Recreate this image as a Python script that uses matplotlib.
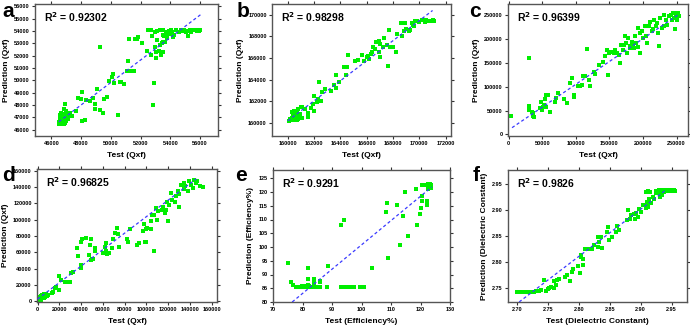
import matplotlib
matplotlib.use("Agg")
import matplotlib.pyplot as plt
from matplotlib.ticker import FixedLocator, FormatStrFormatter

plt.rcParams['font.family'] = ['Liberation Sans', 'DejaVu Sans']
plt.rcParams['font.weight'] = 'bold'

# ---------------- panel a ----------------
a_x = [46500,46550,46600,46650,46700,46750,46800,46850,46500,46600,46700,46800,46550,46650,46750,46850,46900,46600,46700,46800,46650,46750,46950,47050,47150,46900,47000,46550,46950,46700,
       46940,46820,47410,47250,47100,47650,47760,48050,48000,48070,48280,48350,48630,48820,49060,48940,48940,49290,49480,49530,49720,49290,49880,50050,50160,50190,50470,50590,50710,50890,
       51060,51290,51410,51530,51180,51250,51650,51810,51760,52120,52400,52680,52700,52780,52870,52990,53110,52940,53000,53060,53250,53290,53410,53480,53530,53650,53760,53840,53880,54000,
       54070,54160,54120,54240,52820,53340,53480,53600,54590,54710,54940,55060,55290,55410,55600,55690,55840,55930,56020,55150,55500,55800,55200,54400,54800,53300,53500,53700,52500,53100]
a_y = [46450,46500,46450,46550,46500,46450,46550,46500,46650,46750,46700,46850,46900,47000,47100,47000,46800,47200,47300,47250,47400,46600,46950,47200,46900,46550,46700,46600,47500,46850,
       48060,47660,47120,47350,47050,47520,48540,49070,48510,46720,46800,48400,48330,48600,49340,48060,47660,47580,47390,48510,48650,52740,49930,50250,50520,49800,47200,49880,49880,49720,
       50730,50730,50730,50730,51590,53350,53400,53540,53330,53000,52390,52070,54070,53590,49800,53940,53270,52740,51800,52340,52420,52870,53000,52280,53080,53140,53460,53780,53990,53730,
       54070,53540,53890,53670,48000,52070,53670,53600,53940,54070,54070,53940,54070,53940,54070,54070,54130,54020,54070,54000,54100,54000,53600,54100,54050,54100,54100,53900,54100,54000]
a_line_x = [46500, 56100]
a_line_y = [46650, 55400]
a_r2 = "0.92302"

# ---------------- panel b ----------------
b_x = [160100,160200,160300,160400,160500,160600,160700,160800,160200,160350,160500,160650,160800,160900,160500,160700,160800,161000,160400,160950,161100,160600,160300,
       161100,161300,161500,161500,161800,161900,162000,162000,162200,162300,162400,162500,162600,162800,163300,163500,163700,163700,163900,164300,164400,164500,164600,165100,
       165300,165600,165800,166000,166100,166200,166300,166400,166500,166600,166700,166900,166900,167000,167000,167200,167300,167500,167600,167700,167800,168000,168200,168300,
       168600,168700,168800,168900,169000,169300,169400,169500,169600,169700,170000,170200,170400,170600,170800,171000,171100,169800,170500,169200]
b_y = [160200,160300,160250,160400,160300,160350,160300,160400,160400,160500,160600,160700,160600,160800,161100,161000,161300,161500,160700,160450,160500,160900,161000,
       161500,161300,160900,160600,161400,161800,162500,161100,161900,162200,163800,162000,162900,163100,163000,163500,164400,163200,163800,165200,164400,165200,166300,165700,
       165800,166300,165700,166100,166200,165900,166400,166600,167000,166800,167500,167600,166600,167300,166100,167000,167900,167200,165300,168600,167000,167000,166600,168200,
       169200,168000,168500,169200,168700,168600,169200,169100,169000,169400,169300,169500,169300,169400,169400,169500,169400,169400,169500,168500]
b_line_x = [160000, 171000]
b_line_y = [160200, 170400]
b_r2 = "0.98298"

# ---------------- panel c ----------------
c_x = [3000,30000,30000,30000,36000,36000,35000,37000,46000,48000,49000,51000,53000,55000,55000,58000,61000,54000,
       69000,71000,74000,82000,87000,91000,95000,97000,97000,103000,106000,109000,111000,114000,116000,119000,121000,
       127000,128000,134000,141000,143000,147000,148000,150000,153000,157000,159000,162000,164000,166000,167000,171000,
       173000,175000,178000,180000,181000,184000,186000,188000,190000,192000,195000,196000,199000,200000,203000,205000,
       206000,209000,211000,214000,216000,219000,221000,224000,226000,229000,231000,234000,236000,239000,241000,243000,
       245000,246000,248000,249000,250000,251000,252000,253000,247000,232000,170000,176000,185000,193000,215000,222000]
c_y = [39000,60000,51000,160000,44000,39000,48000,37000,56000,69000,51000,58000,62000,58000,83000,83000,48000,74000,
       69000,77000,86000,74000,65000,107000,118000,83000,78000,102000,102000,104000,123000,123000,179000,114000,102000,
       132000,127000,146000,153000,165000,178000,125000,171000,174000,171000,178000,172000,167000,150000,188000,187000,
       206000,192000,202000,181000,185000,195000,181000,206000,192000,223000,213000,172000,217000,202000,227000,207000,
       192000,227000,237000,217000,241000,227000,234000,186000,244000,223000,250000,241000,230000,248000,251000,241000,
       255000,244000,255000,248000,251000,241000,255000,249000,221000,227000,178000,170000,189000,184000,222000,212000]
c_line_x = [5000, 253000]
c_line_y = [14000, 252000]
c_r2 = "0.96399"

# ---------------- panel d ----------------
d_x = [1000,2000,3000,4000,5000,6000,7000,8000,3000,5000,6000,2000,4000,7000,9000,10000,1500,500,6000,8000,3500,
       13000,14000,16000,17000,20000,20000,22000,25000,27000,30000,31000,33000,
       37000,36000,40000,41000,40000,40000,45000,49000,48000,47000,49000,50000,51000,53000,53000,60000,62000,63000,63000,64000,
       66000,68000,69000,71000,73000,74000,75000,82000,83000,85000,91000,93000,97000,98000,100000,101000,99000,100000,104000,
       104000,107000,105000,109000,110000,107000,111000,114000,115000,117000,118000,119000,120000,121000,123000,124000,126000,
       127000,129000,130000,130000,132000,135000,136000,139000,141000,143000,144000,146000,147000,149000,152000,138000,135000]
d_y = [2000,3000,2500,4000,5000,6000,7000,7000,6000,8000,4500,5000,7500,5500,6500,7000,1000,3500,9000,9000,1500,
       10000,11000,16000,17000,14000,31000,26000,24000,24000,24000,35000,36000,
       55000,65000,73000,76000,44000,41000,77000,76000,69000,57000,51000,52000,52000,65000,62000,59000,67000,71000,61000,58000,
       59000,65000,76000,84000,90000,82000,67000,76000,73000,88000,69000,71000,86000,94000,88000,90000,73000,73000,88000,
       98000,106000,106000,114000,100000,61000,110000,112000,116000,108000,112000,122000,98000,118000,133000,124000,122000,
       129000,135000,131000,116000,143000,145000,141000,147000,143000,139000,149000,145000,147000,141000,140000,135000,137000]
d_line_x = [0, 146000]
d_line_y = [2500, 150000]
d_r2 = "0.96825"

# ---------------- panel e ----------------
e_x = [75.0,76.2,76.8,
       77.8,78.3,78.8,79.3,79.8,80.3,80.8,81.3,81.8,82.3,82.8,83.3,83.8,84.3,84.8,85.3,86.0,88.2,93.2,94.4,95.2,96.1,97.3,99.6,100.3,100.9,
       79.0,79.8,80.6,81.7,82.2,81.7,81.7,83.8,84.0,85.8,86.0,88.8,93.1,94.1,103.6,108.3,108.7,109.1,112.2,113.1,113.9,114.8,115.7,
       118.7,118.4,119.8,120.1,120.4,120.5,120.6,121.5,122.1,122.1,122.7,123.0,123.2,123.7,123.6,122.4]
e_y = [94.2,87.2,86.3,
       85.3,85.3,85.3,85.3,85.3,85.3,85.3,85.3,85.3,85.3,85.3,85.3,85.3,85.3,85.3,85.3,85.3,85.3,85.3,85.3,85.3,85.3,85.3,85.3,85.3,85.3,
       85.6,85.7,85.8,86.2,86.0,88.2,92.2,86.8,88.5,87.2,87.8,93.0,107.9,110.0,92.2,112.7,115.9,95.9,115.4,100.6,111.4,120.0,104.0,
       107.9,121.0,112.1,114.2,118.6,116.6,122.5,122.5,116.6,115.4,121.0,122.2,122.8,122.7,121.6,122.8]
e_line_x = [76.5, 123.8]
e_line_y = [80.0, 121.8]
e_r2 = "0.9291"

# ---------------- panel f ----------------
f_x = [2.700,2.703,2.706,2.709,2.712,2.715,2.718,2.721,2.724,2.727,2.730,2.733,2.736,
       2.735,2.739,2.744,2.746,2.749,2.752,2.755,2.759,2.760,2.762,2.764,2.767,2.777,2.780,2.785,2.788,2.790,2.798,2.801,
       2.803,2.804,2.807,2.806,2.809,2.814,2.821,2.825,2.830,2.831,2.833,2.836,2.837,2.845,2.847,2.849,2.854,2.860,2.862,
       2.865,2.877,2.879,2.882,2.885,2.889,2.891,2.893,2.895,2.897,2.900,2.904,2.908,2.910,2.911,2.912,2.914,2.917,2.915,
       2.920,2.922,2.925,2.927,2.929,2.931,2.908,2.912,
       2.924,2.927,2.930,2.933,2.936,2.939,2.942,2.945,2.948,2.951,2.954,2.956,2.932,2.935,2.938]
f_y = [2.7435,2.7435,2.7438,2.7435,2.7438,2.7435,2.7438,2.744,2.7438,2.744,2.7443,2.7445,2.7448,
       2.745,2.747,2.767,2.746,2.748,2.751,2.752,2.764,2.750,2.756,2.766,2.769,2.772,2.776,2.764,2.782,2.788,2.793,2.780,
       2.811,2.814,2.795,2.806,2.825,2.825,2.825,2.833,2.830,2.849,2.839,2.849,2.827,2.859,2.868,2.843,2.849,2.859,2.869,
       2.862,2.881,2.900,2.884,2.890,2.892,2.884,2.894,2.887,2.903,2.897,2.910,2.905,2.916,2.913,2.906,2.922,2.913,2.935,
       2.926,2.922,2.932,2.936,2.935,2.926,2.935,2.936,
       2.937,2.937,2.938,2.937,2.938,2.937,2.938,2.937,2.938,2.937,2.938,2.937,2.933,2.930,2.934]
f_line_x = [2.703, 2.940]
f_line_y = [2.724, 2.938]
f_r2 = "0.9826"

W, H = 690, 325
fig = plt.figure(figsize=(W/100, H/100), dpi=100)

def make_ax(x0, y0, x1, y1):
    return fig.add_axes([x0/W, 1 - y1/H, (x1-x0)/W, (y1-y0)/H])

panels = [
    dict(box=(35, 4, 218, 136), x=a_x, y=a_y, lx=a_line_x, ly=a_line_y, r2=a_r2, letter='a', lpos=(2, 2),
         xlim=(44900, 57200), ylim=(45500, 56200), xt=list(range(46000, 56001, 2000)), yt=list(range(46000, 56001, 1000)),
         xl='Test (Qxf)', yl='Prediction (Qxf)', fmt='%d'),
    dict(box=(272, 4, 451, 136), x=b_x, y=b_y, lx=b_line_x, ly=b_line_y, r2=b_r2, letter='b', lpos=(237, 2),
         xlim=(158800, 172400), ylim=(158800, 171000), xt=list(range(160000, 172001, 2000)), yt=list(range(160000, 170001, 2000)),
         xl='Test (Qxf)', yl='Prediction (Qxf)', fmt='%d'),
    dict(box=(508, 4, 688, 136), x=c_x, y=c_y, lx=c_line_x, ly=c_line_y, r2=c_r2, letter='c', lpos=(469, 2),
         xlim=(-1000, 267000), ylim=(-3500, 274000), xt=list(range(0, 250001, 50000)), yt=list(range(0, 250001, 50000)),
         xl='Test (Qxf)', yl='Prediction (Qxf)', fmt='%d'),
    dict(box=(37, 169, 217, 302), x=d_x, y=d_y, lx=d_line_x, ly=d_line_y, r2=d_r2, letter='d', lpos=(2, 166),
         xlim=(-500, 165000), ylim=(-1000, 162000), xt=list(range(0, 160001, 20000)), yt=list(range(0, 160001, 20000)),
         xl='Test (Qxf)', yl='Prediction (Qxf)', fmt='%d'),
    dict(box=(273, 170, 450, 302), x=e_x, y=e_y, lx=e_line_x, ly=e_line_y, r2=e_r2, letter='e', lpos=(235, 166),
         xlim=(70, 130), ylim=(80, 128), xt=list(range(70, 131, 10)), yt=list(range(80, 126, 5)),
         xl='Test (Efficiency%)', yl='Prediction (Efficiency%)', fmt='%d'),
    dict(box=(508, 170, 687, 302), x=f_x, y=f_y, lx=f_line_x, ly=f_line_y, r2=f_r2, letter='f', lpos=(473, 166),
         xlim=(2.685, 2.975), ylim=(2.724, 2.977), xt=[2.70, 2.75, 2.80, 2.85, 2.90, 2.95], yt=[2.75, 2.80, 2.85, 2.90, 2.95],
         xl='Test (Dielectric Constant)', yl='Prediction (Dielectric Constant)', fmt='%.2f'),
]

for p in panels:
    ax = make_ax(*p['box'])
    ax.scatter(p['x'], p['y'], marker='s', s=7, color='#00ee00', linewidths=0, zorder=2)
    ax.plot(p['lx'], p['ly'], color='#3a3aff', lw=0.9, dashes=(2.5, 2), zorder=3)
    ax.set_xlim(*p['xlim'])
    ax.set_ylim(*p['ylim'])
    ax.xaxis.set_major_locator(FixedLocator(p['xt']))
    ax.yaxis.set_major_locator(FixedLocator(p['yt']))
    ax.xaxis.set_major_formatter(FormatStrFormatter(p['fmt']))
    ax.yaxis.set_major_formatter(FormatStrFormatter(p['fmt']))
    ax.tick_params(which='both', direction='out', length=2.2, width=0.8, labelsize=4.0,
                   top=True, right=True, colors='#333333', labelcolor='black', pad=1.6)
    for lab in ax.get_xticklabels() + ax.get_yticklabels():
        lab.set_fontweight('bold')
    for s in ax.spines.values():
        s.set_color('#555555')
        s.set_linewidth(1.0)
    ax.set_xlabel(p['xl'], fontsize=6.0, fontweight='bold', labelpad=4)
    ax.set_ylabel(p['yl'], fontsize=6.0, fontweight='bold', labelpad=3)
    ax.text(0.05, 0.95, 'R$^{\\mathbf{2}}$ = ' + p['r2'], transform=ax.transAxes, fontsize=7.5,
            fontweight='bold', ha='left', va='top')
    lx, ly = p['lpos']
    fig.text(lx/W, 1 - ly/H, p['letter'], fontsize=15, fontweight='bold', ha='left', va='top')

fig.savefig('out.png', dpi=100)
